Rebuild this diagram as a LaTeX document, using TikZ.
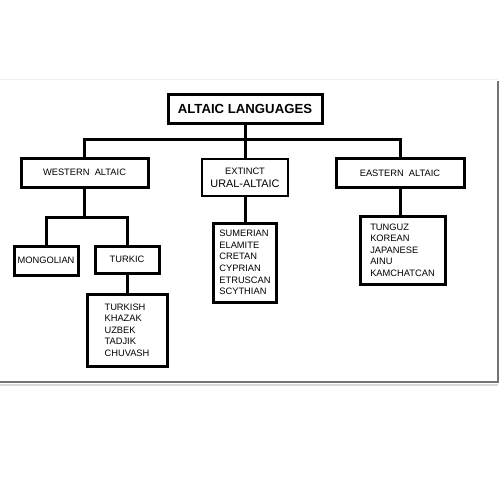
\documentclass[tikz,border=0pt]{standalone}
\usepackage{fontspec}
\setmainfont{Liberation Sans}
\usetikzlibrary{calc}
\def\u{0.02cm}

\begin{document}
\begin{tikzpicture}[x=0.02cm, y=-0.02cm,
		thickbox/.style={draw, line width=3*\u, inner sep=0pt, font=\fontsize{5.3}{6.6}\selectfont},
		thinbox/.style={draw, line width=2*\u, inner sep=0pt, align=center, font=\fontsize{5.3}{6.6}\selectfont},
		listbox/.style={thickbox, align=left},
		link/.style={line width=3*\u}]
			%%%%% START %%%%%
			\useasboundingbox (0, 0) rectangle (500, 500);
			
			% page frame
			\draw[black!6, line width=1*\u] (0, 80) -- (498, 80);
			\draw[black!55, line width=2*\u] (498, 81) -- (498, 382) -- (0, 382);
			\draw[black!15, line width=2*\u] (0, 385) -- (498, 385);
			
			\node[thickbox, minimum width=154*\u, minimum height=28*\u,
				font=\fontsize{7.5}{9}\selectfont\bfseries] (altaic) at (245, 109) {ALTAIC LANGUAGES};
			
			\node[thickbox, minimum width=127*\u, minimum height=29*\u] (western) at (84.5, 172.5) {WESTERN\ \ ALTAIC};
			\node[thinbox, minimum width=86*\u, minimum height=37*\u] (extinct) at (245, 177.5) {EXTINCT\\[1pt]{\fontsize{6.2}{7}\selectfont URAL-ALTAIC}};
			\node[thickbox, minimum width=128*\u, minimum height=29*\u] (eastern) at (400, 173) {EASTERN\ \ ALTAIC};
			
			\coordinate (topbus) at (245, 139);
			\draw[link] (altaic.south) -- (extinct.north);
			\draw[link] (western.north) |- (topbus) -| (eastern.north);
			
			\node[thickbox, minimum width=64*\u, minimum height=29*\u] (mongolian) at (46, 260.5) {MONGOLIAN};
			\node[thickbox, minimum width=64*\u, minimum height=27*\u] (turkic) at (127, 259.5) {TURKIC};
			
			\coordinate (westbus) at (84.5, 217);
			\draw[link] (western.south) -- (westbus);
			\draw[link] (mongolian.north) |- (westbus) -| (turkic.north);
			
			\node[listbox, minimum width=80*\u, minimum height=72*\u] (turkish) at (127, 330)
				{TURKISH\\KHAZAK\\UZBEK\\TADJIK\\CHUVASH};
			\draw[link] (turkic.south) -- (turkish.north);
			
			\node[listbox, minimum width=63*\u, minimum height=79*\u] (sumerian) at (245, 262.5)
				{SUMERIAN\\ELAMITE\\CRETAN\\CYPRIAN\\ETRUSCAN\\SCYTHIAN};
			\draw[link] (extinct.south) -- (sumerian.north);
			
			\node[listbox, minimum width=85*\u, minimum height=68*\u] (tunguz) at (402.5, 250)
				{TUNGUZ\\KOREAN\\JAPANESE\\AINU\\KAMCHATCAN};
			\draw[link] (eastern.south) -- (eastern.south |- tunguz.north);
			%%%%% END %%%%%
\end{tikzpicture}
\end{document}
